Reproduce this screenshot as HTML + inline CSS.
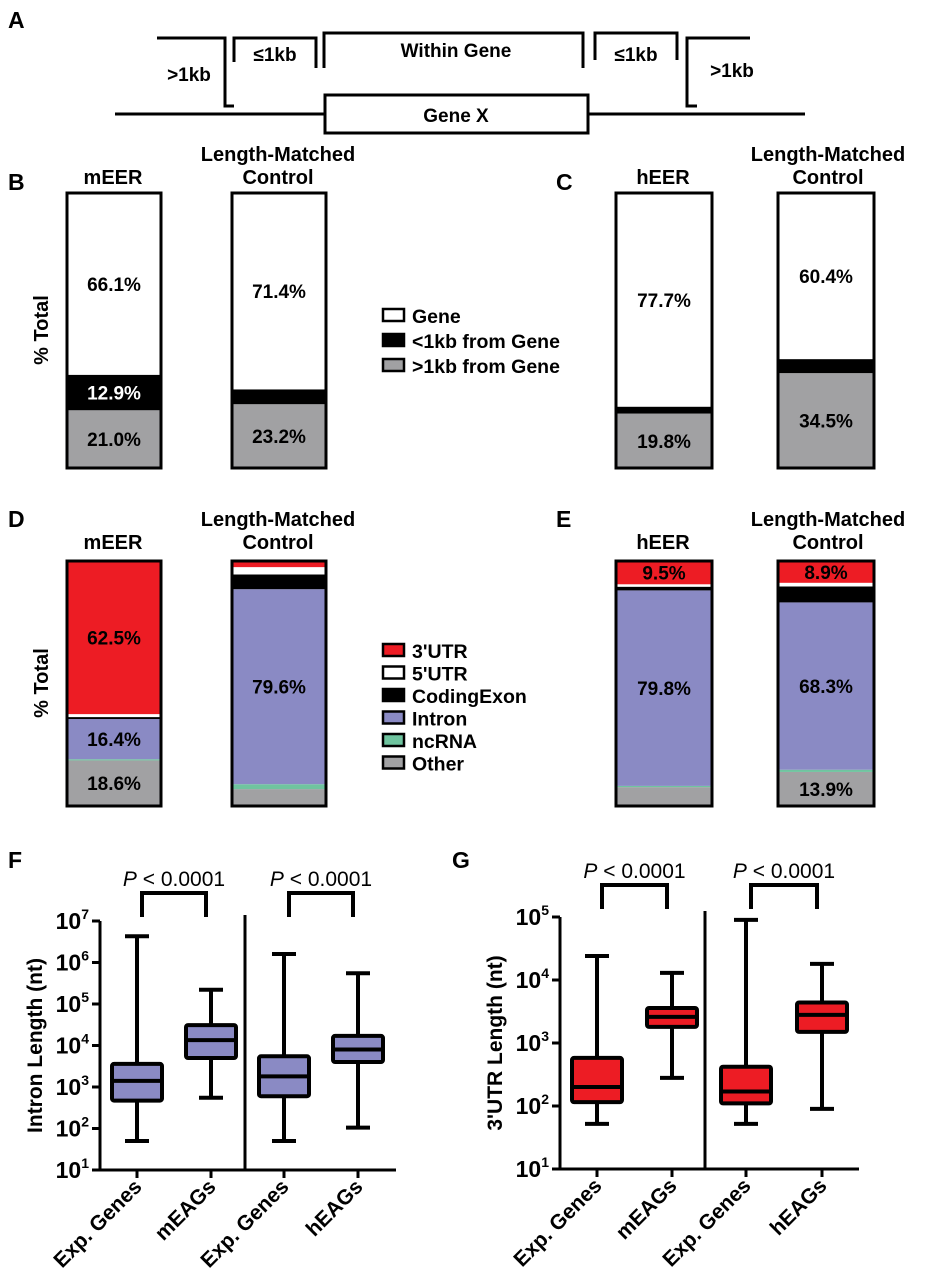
<!DOCTYPE html>
<html><head><meta charset="utf-8"><style>
body{margin:0;background:#fff}
svg{display:block;font-family:"Liberation Sans",Arial,sans-serif}
.b{font-weight:bold}
</style></head><body>
<svg id="fig" width="931" height="1280" viewBox="0 0 931 1280">
<g class="b" font-size="23">
<text x="8" y="28">A</text>
<text x="8" y="190">B</text>
<text x="556" y="190">C</text>
<text x="8" y="527">D</text>
<text x="556" y="527">E</text>
<text x="8" y="868">F</text>
<text x="452" y="868">G</text>
</g>
<g fill="none" stroke="#000" stroke-width="3">
<line x1="115" y1="114" x2="805" y2="114"/>
<rect x="325" y="95" width="263" height="38" fill="#fff"/>
<path d="M157,38 H225 V106 H234"/>
<path d="M234,62 V38 H316 V68"/>
<path d="M324,68 V33 H583 V68"/>
<path d="M595,60 V33 H677 V60"/>
<path d="M750,38 H687 V106 H697"/>
</g>
<g class="b" font-size="19" text-anchor="middle">
<text x="189" y="81">&gt;1kb</text>
<text x="275" y="61">≤1kb</text>
<text x="456" y="57">Within  Gene</text>
<text x="636" y="61">≤1kb</text>
<text x="732" y="77">&gt;1kb</text>
<text x="456" y="122">Gene X</text>
</g>
<g id="stacks"></g>
<g id="boxes"></g>
</svg>
<script>
// ---- Panel B/C data (bottom to top: >1kb, <1kb, gene)
const bcCategories = ['mEER','Control','hEER','Control'];
const bcGene = [66.1, 71.4, 77.7, 60.4];
const bcNear = [12.9, 5.4, 2.5, 5.1];
const bcFar = [21.0, 23.2, 19.8, 34.5];
const bcLabelGene = ['66.1%','71.4%','77.7%','60.4%'];
const bcLabelNear = ['12.9%','','',''];
const bcLabelFar = ['21.0%','23.2%','19.8%','34.5%'];
// ---- Panel D/E data
const deUTR3 = [62.5, 2.5, 9.5, 8.9];
const deUTR5 = [1.2, 3.0, 1.0, 1.5];
const deCoding = [0.8, 6.0, 1.5, 6.5];
const deIntron = [16.4, 79.6, 79.8, 68.3];
const deNcRNA = [0.5, 2.0, 0.5, 0.9];
const deOther = [18.6, 6.9, 7.7, 13.9];
const deLabelUTR3 = ['62.5%','','9.5%','8.9%'];
const deLabelIntron = ['16.4%','79.6%','79.8%','68.3%'];
const deLabelOther = ['18.6%','','','13.9%'];
// ---- Panel F (intron length) data
const fCategories = ['Exp. Genes','mEAGs','Exp. Genes','hEAGs'];
const fMax = [4.3e6, 2.2e5, 1.6e6, 5.5e5];
const fQ3 = [3.6e3, 3.1e4, 5.5e3, 1.7e4];
const fMed = [1.4e3, 1.35e4, 1.8e3, 8e3];
const fQ1 = [470, 5e3, 600, 4e3];
const fMin = [50, 550, 50, 105];
const fTicks = [1,2,3,4,5,6,7];
// ---- Panel G (3'UTR length) data
const gCategories = ['Exp. Genes','mEAGs','Exp. Genes','hEAGs'];
const gMax = [2.4e4, 1.3e4, 9e4, 1.8e4];
const gQ3 = [580, 3.6e3, 420, 4.4e3];
const gMed = [200, 2.6e3, 170, 2.8e3];
const gQ1 = [115, 1.8e3, 110, 1.5e3];
const gMin = [52, 280, 52, 90];
const gTicks = [1,2,3,4,5];

const NS='http://www.w3.org/2000/svg';
function mk(tag, attrs, parent){const e=document.createElementNS(NS,tag);for(const k in attrs)e.setAttribute(k,attrs[k]);parent.appendChild(e);return e;}
function txt(parent,x,y,s,size,anchor,extra){const t=mk('text',Object.assign({x:x,y:y,'font-size':size,'text-anchor':anchor||'middle','font-weight':'bold'},extra||{}),parent);t.textContent=s;return t;}

const stacks=document.getElementById('stacks');
const boxes=document.getElementById('boxes');

function stackBar(x,w,top,bottom,segs,colors,labels,name){
  const g=mk('g',{},stacks);
  
  
  const H=bottom-top; let y=bottom;
  segs.forEach((v,i)=>{
    const h=v/100*H; y-=h;
    const r=mk('rect',{x:x,y:y,width:w,height:h,fill:colors[i]},g);
    
    
    if(labels[i]&&labels[i].s){txt(g,x+w/2,y+h/2+7,labels[i].s,19,'middle',{fill:labels[i].f||'#000'});}
  });
  mk('rect',{x:x,y:top,width:w,height:H,fill:'none',stroke:'#000','stroke-width':3},g);
}
const bcX=[67,232,616,778], bcW=[94,94,96,96];
for(let i=0;i<4;i++){
  stackBar(bcX[i],bcW[i],193,468,[bcFar[i],bcNear[i],bcGene[i]],['#a1a1a3','#000','#fff'],
   [{s:bcLabelFar[i]},{s:bcLabelNear[i],f:'#fff'},{s:bcLabelGene[i]}],'location-bar-'+i);
}
const deColors=['#a1a1a3','#6fc49f','#8a8ac4','#000','#fff','#ed1c24'];
for(let i=0;i<4;i++){
  stackBar(bcX[i],bcW[i],561,806,[deOther[i],deNcRNA[i],deIntron[i],deCoding[i],deUTR5[i],deUTR3[i]],deColors,
   [{s:deLabelOther[i]},null,{s:deLabelIntron[i]},null,null,{s:deLabelUTR3[i]}],'feature-bar-'+i);
}
[[113,184,'mEER'],[278,161,'Length-Matched'],[278,184,'Control'],[663,184,'hEER'],[828,161,'Length-Matched'],[828,184,'Control'],
 [113,549,'mEER'],[278,526,'Length-Matched'],[278,549,'Control'],[663,549,'hEER'],[828,526,'Length-Matched'],[828,549,'Control']].forEach(a=>{
  const t=txt(stacks,a[0],a[1],a[2],20);
  
  
});
[330,683].forEach(cy=>{const t=txt(stacks,0,0,'% Total',20,'middle',{transform:'translate(48,'+cy+') rotate(-90)'});
  
  });
function legend(items,colors,y0,dy){
  const g=mk('g',{},stacks);
  
  
  items.forEach((s,i)=>{
    const y=y0+i*dy;
    mk('rect',{x:383,y:y-7,width:21,height:12,fill:colors[i],stroke:'#000','stroke-width':2.5},g);
    const t=txt(g,412,y+7,s,19.5,'start');
    
    
  });
}
legend(['Gene','<1kb from Gene','>1kb from Gene'],['#fff','#000','#a1a1a3'],316,25);
legend(["3'UTR","5'UTR",'CodingExon','Intron','ncRNA','Other'],['#ed1c24','#fff','#000','#8a8ac4','#6fc49f','#a1a1a3'],651,22.5);

function boxPanel(ax,xs,ticks,yTop,yBot,axEnd,divX,maxA,q3A,medA,q1A,minA,cats,fill,ytitle,name,brY,pY){
  const g=mk('g',{},boxes);
  
  
  const lo=ticks[0],hi=ticks[ticks.length-1];
  const Y=v=>yBot-(Math.log10(v)-lo)/(hi-lo)*(yBot-yTop);
  mk('path',{d:`M${ax},${yTop} V${yBot} H${axEnd}`,fill:'none',stroke:'#000','stroke-width':3},g);
  mk('line',{x1:divX,y1:yTop-6,x2:divX,y2:yBot,stroke:'#000','stroke-width':3},g);
  ticks.forEach(t=>{const y=Y(Math.pow(10,t));
    mk('line',{x1:ax-8,y1:y,x2:ax,y2:y,stroke:'#000','stroke-width':3},g);
    const te=mk('text',{x:ax-11,y:y+8,'font-size':23,'text-anchor':'end','font-weight':'bold'},g);
    
    
    te.innerHTML='10<tspan dy="-10" font-size="14">'+t+'</tspan>';
  });
  const yt=txt(g,0,0,ytitle,21,'middle',{transform:`translate(${ax-58},${(yTop+yBot)/2}) rotate(-90)`});
  
  
  xs.forEach((x,i)=>{
    const bg=mk('g',{},g);
    
    
    const s={stroke:'#000','stroke-width':4};
    mk('line',Object.assign({x1:x,y1:Y(maxA[i]),x2:x,y2:Y(minA[i])},s),bg);
    mk('line',Object.assign({x1:x-12,y1:Y(maxA[i]),x2:x+12,y2:Y(maxA[i])},s),bg);
    mk('line',Object.assign({x1:x-12,y1:Y(minA[i]),x2:x+12,y2:Y(minA[i])},s),bg);
    mk('rect',Object.assign({x:x-25,y:Y(q3A[i]),width:50,height:Y(q1A[i])-Y(q3A[i]),fill:fill,rx:2},s),bg);
    mk('line',Object.assign({x1:x-25,y1:Y(medA[i]),x2:x+25,y2:Y(medA[i])},s),bg);
    mk('line',{x1:x,y1:yBot,x2:x,y2:yBot+8,stroke:'#000','stroke-width':3},g);
    const t=txt(g,0,0,cats[i],21,'end',{transform:`translate(${x+6},${yBot+18}) rotate(-45)`});
    
    
  });
  [[0,1],[2,3]].forEach(p=>{
    const a=xs[p[0]]+5,b=xs[p[1]]-5;
    const br=mk('path',{d:`M${a},${brY+24} V${brY} H${b} V${brY+24}`,fill:'none',stroke:'#000','stroke-width':4},g);
    
    
    const t=mk('text',{x:(a+b)/2,y:pY,'font-size':21,'text-anchor':'middle'},g);
    
    
    t.innerHTML='<tspan font-style="italic">P</tspan> &lt; 0.0001';
  });
}
boxPanel(100,[137,211,284,358],fTicks,921,1170,396,245,fMax,fQ3,fMed,fQ1,fMin,fCategories,'#8a8ac4','Intron Length (nt)','intron-length-chart',893,886);
boxPanel(560,[597,672,746,822],gTicks,917,1169,859,705,gMax,gQ3,gMed,gQ1,gMin,gCategories,'#ed1c24',"3'UTR Length (nt)",'utr-length-chart',885,878);
</script>
</body></html>
